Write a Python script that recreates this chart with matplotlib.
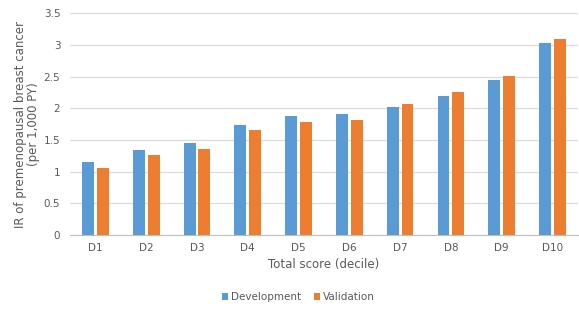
import matplotlib
matplotlib.use('Agg')
import matplotlib.pyplot as plt
import numpy as np

deciles = ['D1', 'D2', 'D3', 'D4', 'D5', 'D6', 'D7', 'D8', 'D9', 'D10']
development = [1.15, 1.34, 1.45, 1.74, 1.87, 1.91, 2.02, 2.20, 2.45, 3.03]
validation = [1.06, 1.27, 1.36, 1.66, 1.79, 1.82, 2.06, 2.26, 2.51, 3.09]

plt.rcParams.update({'font.family': 'DejaVu Sans'})
fig = plt.figure(figsize=(5.79, 3.11), dpi=100)
fig.patch.set_facecolor('white')
ax = fig.add_axes([0.121, 0.244, 0.877, 0.714])

x = np.arange(len(deciles))
w = 0.235
ax.bar(x - 0.145, development, w, color='#5B9BD5', label='Development', zorder=3)
ax.bar(x + 0.145, validation, w, color='#ED7D31', label='Validation', zorder=3)

ax.set_xlim(-0.5, 9.5)
ax.set_ylim(0, 3.5)
ax.set_yticks(np.arange(0, 3.51, 0.5))
ax.set_yticklabels(['0', '0.5', '1', '1.5', '2', '2.5', '3', '3.5'])
ax.set_xticks(x)
ax.set_xticklabels(deciles)
ax.tick_params(axis='both', length=0, labelsize=7.5, colors='#595959')
ax.tick_params(axis='y', pad=7)
ax.tick_params(axis='x', pad=6)
ax.grid(axis='y', color='#D9D9D9', linewidth=0.8, zorder=0)
for s in ['top', 'right', 'left']:
    ax.spines[s].set_visible(False)
ax.spines['bottom'].set_color('#BFBFBF')

ax.set_ylabel('IR of premenopausal breast cancer\n(per 1,000 PY)', fontsize=8.5, color='#595959',
              linespacing=1.0)
ax.yaxis.set_label_coords(-0.06, 0.5)
ax.set_xlabel('Total score (decile)', fontsize=8.5, color='#595959', labelpad=3)

fig.legend(loc='center', bbox_to_anchor=(0.515, 0.045), ncol=2, frameon=False,
           fontsize=7.5, handlelength=0.6, handleheight=0.6, handletextpad=0.3,
           columnspacing=1.2, labelcolor='#595959')

fig.savefig('out.png', dpi=100)
